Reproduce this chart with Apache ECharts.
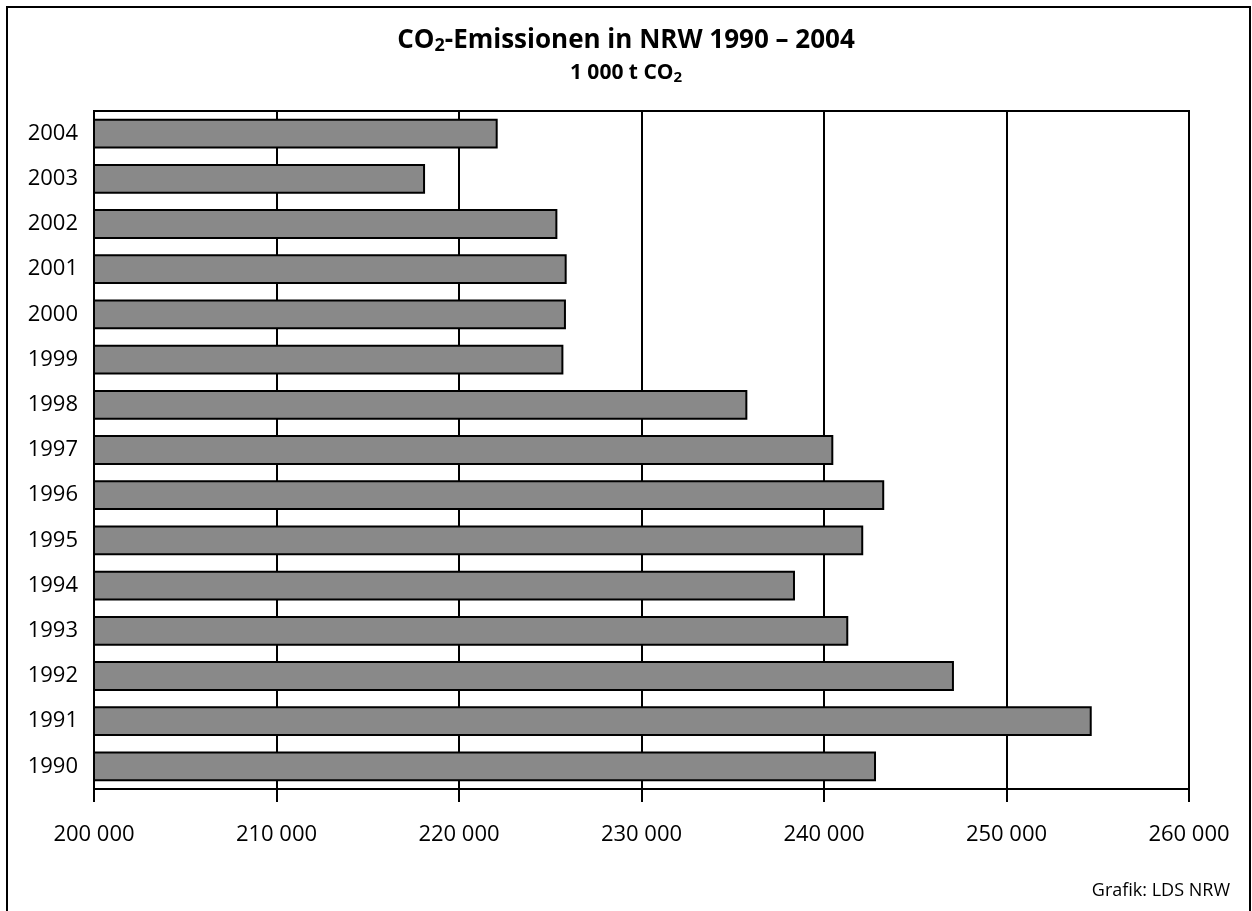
<!DOCTYPE html>
<html><head><meta charset="utf-8">
<script src="https://cdn.jsdelivr.net/npm/echarts@6/dist/echarts.min.js"></script>
<style>html,body{margin:0;padding:0;background:#fff}#c{width:1252px;height:911px}</style>
</head><body><div id="c"></div>
<script>
const years = ['1990','1991','1992','1993','1994','1995','1996','1997','1998','1999','2000','2001','2002','2003','2004'];
const emissions = [242850,254670,247120,241330,238410,242150,243300,240510,235800,225720,225860,225900,225390,218140,222120];
const xTicks = {min:200000, max:260000, interval:10000};
const FONT = '"Open Sans", "Noto Sans", sans-serif';
const chart = echarts.init(document.getElementById('c'), null, {renderer:'canvas'});
chart.setOption({
  backgroundColor:'#fff',
  animation:false,
  title:{
    left:'center', top:22,
    text:'{a|CO}{s|2}{a|-Emissionen in NRW 1990 – 2004}',
    subtext:'{b|1 000 t CO}{bs|2}',
    itemGap:8,
    textStyle:{fontFamily:FONT,fontWeight:'bold',fontSize:26,color:'#000',rich:{
      a:{fontFamily:FONT,fontWeight:'bold',fontSize:26,color:'#000'},
      s:{fontFamily:FONT,fontWeight:'bold',fontSize:18,color:'#000',padding:[10,0,0,0]}
    }},
    subtextStyle:{fontFamily:FONT,fontWeight:'bold',fontSize:21,color:'#000',rich:{
      b:{fontFamily:FONT,fontWeight:'bold',fontSize:21,color:'#000'},
      bs:{fontFamily:FONT,fontWeight:'bold',fontSize:15,color:'#000',padding:[8,0,0,0]}
    }}
  },
  grid:{left:94,right:63,top:111,bottom:122,show:true,borderColor:'#000',borderWidth:2,backgroundColor:'transparent'},
  xAxis:{
    type:'value', min:xTicks.min, max:xTicks.max, interval:xTicks.interval,
    axisLine:{show:true,lineStyle:{color:'#000',width:2}},
    axisTick:{show:true,length:13,lineStyle:{color:'#000',width:2}},
    splitLine:{show:true,lineStyle:{color:'#000',width:2}},
    axisLabel:{margin:35,fontFamily:FONT,fontSize:22,color:'#000',
      formatter:v=>String(v).replace(/\B(?=(\d{3})+(?!\d))/g,' ')}
  },
  yAxis:{
    type:'category', data:years,
    axisLine:{show:true,lineStyle:{color:'#000',width:2}},
    axisTick:{show:false},
    axisLabel:{margin:16,fontFamily:FONT,fontSize:22,color:'#000'}
  },
  series:[{
    type:'bar', data:emissions, barCategoryGap:'34%',
    itemStyle:{color:'#898989',borderColor:'#000',borderWidth:2}
  }],
  graphic:[
    {type:'rect',shape:{x:7,y:7,width:1243,height:920},style:{fill:'none',stroke:'#000',lineWidth:2},silent:true},
    {type:'text',right:22,top:882,style:{text:'Grafik: LDS NRW',font:'18px '+FONT,fill:'#000'}}
  ]
});
</script></body></html>
